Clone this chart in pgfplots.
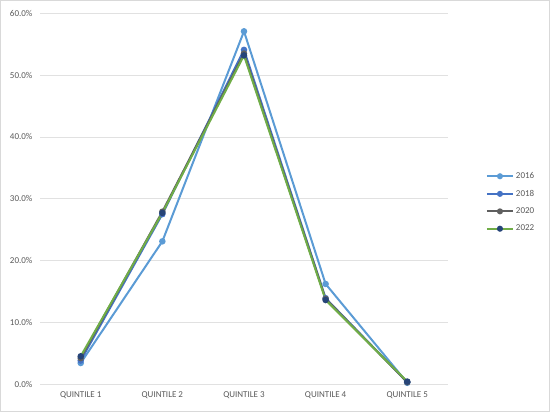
\documentclass[border=0pt]{standalone}
\usepackage{fontspec}
\setmainfont{Carlito}
\usepackage{pgfplots}
\pgfplotsset{compat=1.18}
\definecolor{c16}{HTML}{5B9BD5}
\definecolor{c18}{HTML}{4472C4}
\definecolor{c20}{HTML}{5F5F5F}
\definecolor{c22}{HTML}{70AD47}
\definecolor{c22m}{HTML}{264478}
\definecolor{tick}{HTML}{595959}
\definecolor{grid}{HTML}{D9D9D9}
\begin{document}
\begin{tikzpicture}[x=1pt,y=1pt]
\draw[use as bounding box, draw=grid, line width=0.8pt] (0.5,0.5) rectangle (549.5,411.5);
\begin{axis}[
    at={(40pt,28pt)}, anchor=origin,
    scale only axis,
    width=408pt, height=370.5pt,
    xmin=0.5, xmax=5.5, ymin=0, ymax=60,
    xtick={1,2,3,4,5},
    xticklabels={QUINTILE 1, QUINTILE 2, QUINTILE 3, QUINTILE 4, QUINTILE 5},
    ytick={0,10,20,30,40,50,60},
    yticklabel={\pgfmathprintnumber[fixed,fixed zerofill,precision=1]{\tick}\%},
    /pgf/number format/assume math mode=true,
    tick label style={font=\fontsize{9}{10}\selectfont, text=tick},
    xmajorgrids=false, ymajorgrids=true, grid style={grid!80, line width=0.8pt},
    axis line style={draw=none},
    xtick style={draw=none}, ytick style={draw=none},
    xticklabel style={yshift=-4pt},
    yticklabel style={xshift=-4pt},
    legend style={at={(1.085,0.49)}, anchor=west, draw=none, fill=none,
        font=\fontsize{9}{10}\selectfont, text=tick, row sep=6pt},
    legend cell align=left,
    legend image post style={mark size=2pt},
    legend image code/.code={\draw[#1] (0pt,0pt) -- (26pt,0pt); \draw plot[#1] coordinates {(13pt,0pt)};},
    every axis plot/.append style={line width=2pt, mark=*, mark size=2.2pt},
]
\addplot[c16, mark options={fill=c16}] coordinates {(1,3.4) (2,23.1) (3,57.1) (4,16.2) (5,0.2)};
\addlegendentry{2016}
\addplot[c18, mark options={fill=c18}] coordinates {(1,3.8) (2,27.5) (3,54.1) (4,13.9) (5,0.3)};
\addlegendentry{2018}
\addplot[c20, mark options={fill=c20}] coordinates {(1,4.2) (2,27.9) (3,53.5) (4,13.8) (5,0.3)};
\addlegendentry{2020}
\addplot[c22, mark options={draw=c22m, fill=c22m}] coordinates {(1,4.5) (2,27.7) (3,53.2) (4,13.6) (5,0.4)};
\addlegendentry{2022}
\end{axis}
\end{tikzpicture}
\end{document}
